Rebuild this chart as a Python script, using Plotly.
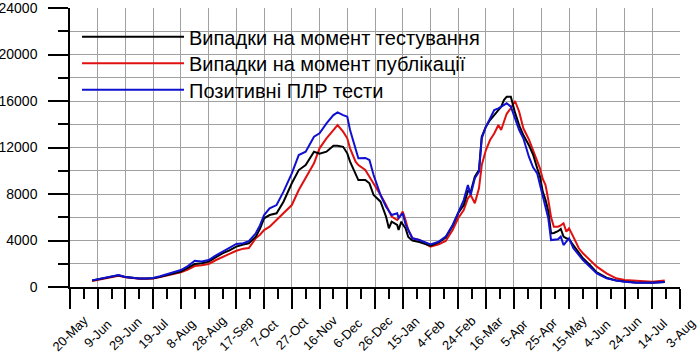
import plotly.graph_objects as go

dates = [
    "2020-06-05", "2020-06-10", "2020-06-15", "2020-06-20", "2020-06-24", "2020-06-29",
    "2020-07-04", "2020-07-09", "2020-07-14", "2020-07-19", "2020-07-24", "2020-07-29",
    "2020-08-03", "2020-08-08", "2020-08-13", "2020-08-18", "2020-08-23", "2020-08-28",
    "2020-09-02", "2020-09-07", "2020-09-12", "2020-09-17", "2020-09-22", "2020-09-26",
    "2020-10-01", "2020-10-04", "2020-10-07", "2020-10-11", "2020-10-16", "2020-10-21",
    "2020-10-27", "2020-11-01", "2020-11-06", "2020-11-12", "2020-11-16", "2020-11-21",
    "2020-11-26", "2020-11-29", "2020-12-03", "2020-12-06", "2020-12-08", "2020-12-12",
    "2020-12-14", "2020-12-19", "2020-12-22", "2020-12-25", "2020-12-30", "2021-01-03",
    "2021-01-05", "2021-01-07", "2021-01-11", "2021-01-12", "2021-01-14", "2021-01-15",
    "2021-01-17", "2021-01-19", "2021-01-22", "2021-01-27", "2021-02-04", "2021-02-10",
    "2021-02-15", "2021-02-20", "2021-02-24", "2021-02-28", "2021-03-03", "2021-03-05",
    "2021-03-08", "2021-03-11", "2021-03-13", "2021-03-16", "2021-03-19", "2021-03-22",
    "2021-03-25", "2021-03-27", "2021-03-29", "2021-03-31", "2021-04-03", "2021-04-06",
    "2021-04-09", "2021-04-12", "2021-04-16", "2021-04-19", "2021-04-22", "2021-04-24",
    "2021-04-26", "2021-04-28", "2021-04-30", "2021-05-02", "2021-05-04", "2021-05-07",
    "2021-05-09", "2021-05-11", "2021-05-13", "2021-05-15", "2021-05-18", "2021-05-22",
    "2021-05-25", "2021-05-30", "2021-06-04", "2021-06-11", "2021-06-18", "2021-06-24",
    "2021-07-02", "2021-07-14", "2021-07-23",
]

cases_by_test_date = [
    560, 680, 820, 950, 1000, 850,
    770, 730, 730, 760, 880, 1030,
    1180, 1320, 1650, 1980, 2050, 2180,
    2550, 2900, 3150, 3470, 3650, 3760,
    4330, 5000, 5910, 6190, 6340, 7340,
    8920, 10060, 10490, 11640, 11470, 11640,
    12150, 12150, 12060, 11500, 10780, 9630,
    9200, 9200, 8920, 7910, 7340, 6050,
    5050, 5620, 5340, 4900, 5620, 5400,
    5050, 4300, 4000, 3870, 3550, 3840,
    4250, 5270, 6340, 7050, 8250, 8180,
    9490, 10060, 12930, 13790, 14360, 14790,
    15220, 15500, 16080, 16370, 16370, 15000,
    13900, 13070, 12200, 11400, 10210, 9500,
    8200, 7500, 6500, 4620, 4650, 4800,
    4990, 4330, 4190, 4100, 3610, 2900,
    2470, 1890, 1250, 800, 560, 470,
    380, 370, 430,
]

cases_by_report_date = [
    520, 650, 780, 900, 960, 830,
    760, 720, 710, 740, 850, 980,
    1120, 1260, 1500, 1800, 1880, 1980,
    2300, 2610, 2850, 3120, 3300, 3350,
    4190, 4500, 4900, 5190, 5760, 6340,
    7050, 8340, 9350, 10640, 11930, 12790,
    13500, 13930, 13360, 12790, 11930, 10780,
    10490, 10060, 9490, 8920, 7910, 7050,
    6500, 6050, 5760, 5900, 6300, 6480,
    5760, 4900, 4200, 4040, 3470, 3670,
    3960, 4900, 5910, 6620, 7630, 7910,
    7200, 8490, 10490, 11780, 12640, 13200,
    13930, 13500, 14220, 14900, 15370, 16000,
    15080, 13650, 12700, 11780, 10700, 10210,
    9300, 8770, 7500, 6000, 5190, 5190,
    5300, 5480, 4760, 5050, 4330, 3330,
    2900, 2350, 1750, 1170, 750, 600,
    520, 460, 550,
]

positive_pcr_tests = [
    570, 700, 840, 960, 1020, 860,
    780, 740, 740, 780, 920, 1080,
    1250, 1460, 1800, 2260, 2200, 2320,
    2700, 3040, 3350, 3700, 3760, 3950,
    4620, 5300, 6190, 6770, 7050, 8200,
    9780, 11350, 11640, 12930, 13220, 14080,
    14790, 15020, 14790, 14650, 13500, 11930,
    11070, 11100, 10920, 9630, 7910, 6900,
    6500, 6190, 6340, 5950, 6200, 6340,
    5400, 4900, 4190, 4040, 3670, 3900,
    4330, 5330, 6340, 7480, 8770, 7910,
    9350, 9920, 12790, 13790, 14500, 15220,
    15370, 15500, 15650, 15800, 15510, 14500,
    13500, 12790, 11210, 10300, 9780, 8800,
    7910, 6900, 5910, 4040, 4040, 4100,
    4330, 3610, 3900, 4190, 3350, 2700,
    2320, 1750, 1170, 750, 550, 460,
    370, 370, 430,
]

series_names = [
    "Випадки на момент тестування",
    "Випадки на момент публікації",
    "Позитивні ПЛР тести",
]

tick_dates = [
    "2020-05-20", "2020-06-09", "2020-06-29", "2020-07-19", "2020-08-08", "2020-08-28",
    "2020-09-17", "2020-10-07", "2020-10-27", "2020-11-16", "2020-12-06", "2020-12-26",
    "2021-01-15", "2021-02-04", "2021-02-24", "2021-03-16", "2021-04-05", "2021-04-25",
    "2021-05-15", "2021-06-04", "2021-06-24", "2021-07-14", "2021-08-03",
]
tick_labels = [
    "20-May", "9-Jun", "29-Jun", "19-Jul", "8-Aug", "28-Aug", "17-Sep", "7-Oct",
    "27-Oct", "16-Nov", "6-Dec", "26-Dec", "15-Jan", "4-Feb", "24-Feb", "16-Mar",
    "5-Apr", "25-Apr", "15-May", "4-Jun", "24-Jun", "14-Jul", "3-Aug",
]

y_tick_values = [0, 4000, 8000, 12000, 16000, 20000, 24000]
y_tick_labels = ["0", "4000", "8000", "12000", "16000", "20000", "24000"]

FONT = "Arial, Liberation Sans, sans-serif"

fig = go.Figure()
fig.add_trace(go.Scatter(x=dates, y=cases_by_report_date, mode="lines",
                         name=series_names[1], legend="legend2",
                         line=dict(color="#e01010", width=2)))
fig.add_trace(go.Scatter(x=dates, y=cases_by_test_date, mode="lines",
                         name=series_names[0], legend="legend",
                         line=dict(color="#000000", width=2)))
fig.add_trace(go.Scatter(x=dates, y=positive_pcr_tests, mode="lines",
                         name=series_names[2], legend="legend3",
                         line=dict(color="#1010d0", width=2)))

# x tick labels: rotated text centred under each tick
for d, lab in zip(tick_dates, tick_labels):
    fig.add_annotation(x=d, xref="x", y=0, yref="paper", yshift=-46,
                       text=lab, textangle=-45, showarrow=False,
                       xanchor="center", yanchor="middle",
                       font=dict(size=13, family=FONT, color="black"))

# hide the grid line along the top edge of the plot (none in the original)
fig.add_shape(type="line", xref="paper", yref="paper", x0=0.002, x1=0.998, y0=1, y1=1,
              line=dict(color="white", width=2), layer="between")

leg_common = dict(xanchor="left", yanchor="top", x=0.0115,
                  bgcolor="rgba(0,0,0,0)", borderwidth=0,
                  font=dict(size=20, family=FONT, color="black"), itemwidth=102)

fig.update_layout(
    width=700, height=364,
    margin=dict(l=70, r=20, t=8, b=77, autoexpand=False),
    paper_bgcolor="white", plot_bgcolor="white",
    font=dict(family=FONT, color="black"),
    showlegend=True,
    legend=dict(y=0.967, **leg_common),
    legend2=dict(y=0.872, **leg_common),
    legend3=dict(y=0.777, **leg_common),
)

fig.update_xaxes(
    type="date", automargin=False,
    range=["2020-05-20", "2021-08-03"],
    tickmode="array", tickvals=tick_dates, showticklabels=False,
    ticks="outside", ticklen=20, tickwidth=1.5, tickcolor="black",
    showline=True, linecolor="black", linewidth=1.5,
    showgrid=True, gridcolor="#a0a0a0", gridwidth=1,
    zeroline=False,
    minor=dict(tick0="2020-05-20", dtick=10 * 86400000, ticks="outside",
               ticklen=10, tickwidth=1.5, tickcolor="black", showgrid=False),
)
fig.update_yaxes(
    automargin=False,
    range=[0, 24000],
    tickmode="array", tickvals=y_tick_values, ticktext=y_tick_labels,
    tickfont=dict(size=14, family=FONT, color="black"),
    ticklabelstandoff=8, ticklabeloverflow="allow",
    ticks="outside", ticklen=20, tickwidth=1.5, tickcolor="black",
    showline=True, linecolor="black", linewidth=1.5,
    showgrid=True, gridcolor="#a0a0a0", gridwidth=1,
    zeroline=False,
    minor=dict(tickmode="linear", dtick=2000, tick0=0, ticks="outside", ticklen=10,
               tickwidth=1.5, tickcolor="black", showgrid=True,
               gridcolor="#a0a0a0", gridwidth=1),
)

fig.write_html("out.html",
               config={"displayModeBar": False},
               post_script="document.body.style.margin='0';document.body.style.padding='0';")
